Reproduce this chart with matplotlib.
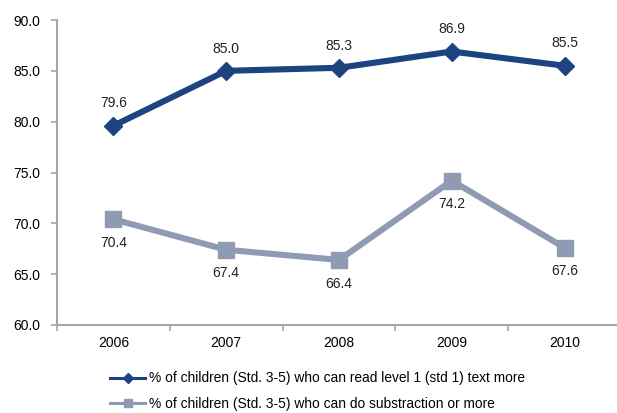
import matplotlib

matplotlib.use("Agg")
import matplotlib.pyplot as plt
import numpy as np

years = ["2006", "2007", "2008", "2009", "2010"]
read_level1 = [79.6, 85.0, 85.3, 86.9, 85.5]
subtraction = [70.4, 67.4, 66.4, 74.2, 67.6]
yticks = [60.0, 65.0, 70.0, 75.0, 80.0, 85.0, 90.0]

label_read = "% of children (Std. 3-5) who can read level 1 (std 1) text more"
label_sub = "% of children (Std. 3-5) who can do substraction or more"

blue = "#1d4480"
gray = "#8f9bb3"
axis_gray = "#a6a6a6"

plt.rcParams["font.family"] = ["Liberation Sans", "DejaVu Sans"]

W, H = 617, 413
fig = plt.figure(figsize=(W / 100, H / 100), dpi=100)
ax = fig.add_axes([57 / W, 1 - 325 / H, 564 / W, 305 / H])

x = np.arange(len(years))
ax.plot(x, read_level1, color=blue, lw=4.4, marker="D", ms=9, zorder=3)
ax.plot(x, subtraction, color=gray, lw=4.4, marker="s", ms=11, zorder=3)

for xi, v in zip(x, read_level1):
    ax.annotate(f"{v:.1f}", (xi, v), xytext=(0, 11), textcoords="offset points",
                ha="center", va="bottom", fontsize=10, color="#222222")
for xi, v in zip(x, subtraction):
    ax.annotate(f"{v:.1f}", (xi, v), xytext=(0, -12), textcoords="offset points",
                ha="center", va="top", fontsize=10, color="#222222")

ax.set_xlim(-0.5, 4.5)
ax.set_ylim(60, 90)
ax.set_yticks(yticks)
ax.set_yticklabels([f"{t:.1f}" for t in yticks])
ax.set_xticks(x)
ax.set_xticklabels(years)
ax.set_xticks(np.arange(-0.5, 5, 1.0), minor=True)
ax.tick_params(axis="x", which="major", length=0, pad=8, labelsize=10)
ax.tick_params(axis="x", which="minor", length=4, color=axis_gray, width=1.2)
ax.tick_params(axis="y", length=4, color=axis_gray, width=1.2, labelsize=10, pad=8)

for side in ("top", "right"):
    ax.spines[side].set_visible(False)
for side in ("left", "bottom"):
    ax.spines[side].set_color(axis_gray)
    ax.spines[side].set_linewidth(1.5)

h1, = ax.plot([], [], color=blue, lw=2.2, marker="D", ms=5)
h2, = ax.plot([], [], color=gray, lw=2.2, marker="s", ms=6)
fig.legend([h1, h2], [label_read, label_sub], loc="upper left",
           bbox_to_anchor=(98 / W, 1 - 359 / H), frameon=False,
           fontsize=9.9, handlelength=2.5, handletextpad=0.3, labelspacing=0.85)

fig.savefig("out.png", dpi=100)
